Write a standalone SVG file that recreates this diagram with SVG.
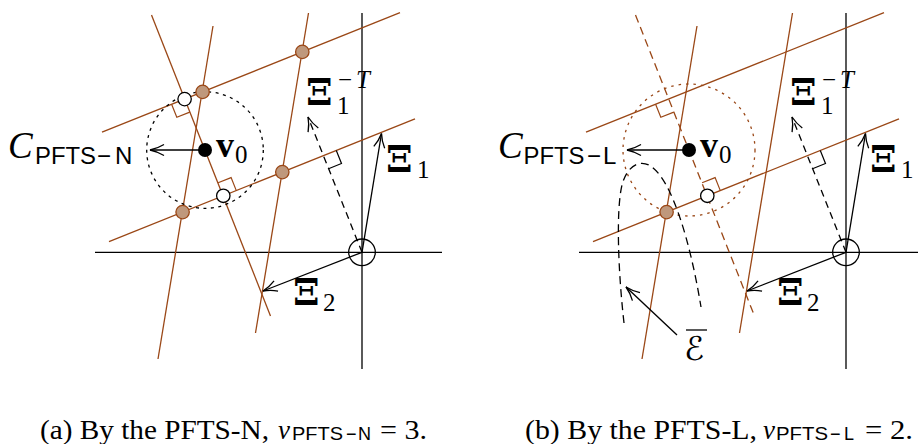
<svg xmlns="http://www.w3.org/2000/svg" width="918" height="444" viewBox="0 0 918 444">
<style>
.ax{stroke:#000;stroke-width:1.3;fill:none}
.br{stroke:#9a4716;stroke-width:1.3;fill:none}
.brd{stroke:#9a4716;stroke-width:1.3;fill:none;stroke-dasharray:8 5}
.ra{stroke:#9a4716;stroke-width:1.2;fill:none}
.rak{stroke:#000;stroke-width:1.2;fill:none}
.arr{stroke:#000;stroke-width:1.3;fill:none;marker-end:url(#to)}
.darr{stroke:#000;stroke-width:1.3;fill:none;stroke-dasharray:7 5;marker-end:url(#to)}
.dc{stroke:#000;stroke-width:1.3;fill:none;stroke-dasharray:3 4.5}
.bdc{stroke:#9a4716;stroke-width:1.3;fill:none;stroke-dasharray:2.5 5}
.lat{fill:#bf987c;stroke:#9a4716;stroke-width:1.3}
.wht{fill:#fff;stroke:#000;stroke-width:1.3}
.blk{fill:#000}
.c{font-family:"Liberation Serif",serif;font-size:37px;font-style:italic;fill:#000}
.xi{font-family:"DejaVu Serif",serif;font-size:38px;font-weight:bold;fill:#000}
.v{font-family:"Liberation Serif",serif;font-size:36px;font-weight:bold;fill:#000}
.s{font-family:"Liberation Serif",serif;font-size:25px;fill:#000}
.ss{font-family:"Liberation Sans",sans-serif;font-size:24px;fill:#000}
.cap{font-family:"Liberation Serif",serif;font-size:27px;fill:#000}
.capss{font-family:"Liberation Sans",sans-serif;font-size:18px;fill:#000}
</style>
<defs>
<marker id="to" markerUnits="userSpaceOnUse" viewBox="-16 -8 18 16" markerWidth="18" markerHeight="16" refX="0" refY="0" orient="auto">
<path d="M-14,-5.5 C-9,-2.5 -4,-0.8 0,0 C-4,0.8 -9,2.5 -14,5.5" fill="none" stroke="#000" stroke-width="1.3" stroke-dasharray="none"/>
</marker>
</defs>

<!-- Panel (a) -->
<g id="panel-a">
  <g id="a-axes">
    <line class="ax" x1="95" y1="252.3" x2="442" y2="252.3"/>
    <line class="ax" x1="362" y1="13" x2="362" y2="369"/>
    <circle id="a-origin" class="ax" cx="362" cy="252.3" r="13.3"/>
  </g>
  <g id="a-lattice-lines">
    <line class="br" x1="102" y1="132.2" x2="400" y2="12.7"/>
    <line class="br" x1="109" y1="241.6" x2="415" y2="118.9"/>
    <line class="br" x1="213" y1="26" x2="158" y2="359"/>
    <line class="br" x1="308.5" y1="13" x2="255.5" y2="333"/>
    <line class="br" x1="151.5" y1="15" x2="270.5" y2="316"/>
  </g>
  <g id="a-right-angles">
    <polyline class="ra" points="171.6,104.3 176.8,117.3 189.8,112.1"/>
    <polyline class="ra" points="218.1,182.8 231.1,177.6 236.3,190.6"/>
    <polyline class="rak" points="336.3,150.5 341.5,163.5 328.5,168.7"/>
  </g>
  <circle id="a-region" class="dc" cx="205" cy="150" r="58.3"/>
  <g id="a-connectors">
    <line class="arr" x1="362" y1="252.3" x2="381.5" y2="133.5"/>
    <line class="arr" x1="362" y1="252.3" x2="263" y2="291"/>
    <line class="darr" x1="362" y1="252.3" x2="308" y2="117"/>
    <line class="arr" x1="205" y1="150" x2="150" y2="150"/>
  </g>
  <g id="a-points">
    <circle class="lat" cx="302.3" cy="51.9" r="6.7"/>
    <circle class="lat" cx="202.6" cy="91.9" r="6.7"/>
    <circle class="lat" cx="282.3" cy="172.1" r="6.7"/>
    <circle class="lat" cx="182.6" cy="212.1" r="6.7"/>
    <circle class="wht" cx="184.6" cy="99.1" r="6.7"/>
    <circle class="wht" cx="223.3" cy="195.8" r="6.7"/>
    <circle id="a-v0" class="blk" cx="205" cy="150" r="7"/>
  </g>
  <g id="a-labels">
    <text class="c" x="8" y="158">C</text>
    <text class="ss" x="35" y="164" textLength="61" lengthAdjust="spacingAndGlyphs">PFTS</text>
    <text class="ss" x="97" y="164">−</text>
    <text class="ss" x="115" y="164">N</text>
    <text class="v" x="216" y="157">v</text>
    <text class="s" x="235" y="163">0</text>
    <text class="xi" x="306" y="105">Ξ</text>
    <text class="s" x="337" y="114">1</text>
    <text class="s" x="338" y="88">−</text>
    <text class="s" x="356" y="88" font-style="italic">T</text>
    <text class="xi" x="386" y="172">Ξ</text>
    <text class="s" x="417" y="178">1</text>
    <text class="xi" x="293" y="305">Ξ</text>
    <text class="s" x="323" y="310.5">2</text>
  </g>
</g>

<!-- Panel (b) -->
<g id="panel-b">
  <g id="b-axes">
    <line class="ax" x1="579" y1="252.3" x2="918" y2="252.3"/>
    <line class="ax" x1="846" y1="13" x2="846" y2="369"/>
    <circle id="b-origin" class="ax" cx="846" cy="252.3" r="13.3"/>
  </g>
  <g id="b-lattice-lines">
    <line class="br" x1="586" y1="132.2" x2="884" y2="12.7"/>
    <line class="br" x1="593" y1="241.6" x2="899" y2="118.9"/>
    <line class="br" x1="697" y1="26" x2="642" y2="359"/>
    <line class="br" x1="792.5" y1="13" x2="739.5" y2="333"/>
    <line class="brd" x1="635.5" y1="15" x2="754.5" y2="316"/>
  </g>
  <g id="b-right-angles">
    <polyline class="ra" points="655.6,104.3 660.8,117.3 673.8,112.1"/>
    <polyline class="ra" points="702.1,182.8 715.1,177.6 720.3,190.6"/>
    <polyline class="rak" points="820.3,150.5 825.5,163.5 812.5,168.7"/>
  </g>
  <circle id="b-region" class="bdc" cx="689" cy="150" r="66"/>
  <path id="b-ebar-curve" d="M624,323 C618,270 616,210 622,185 C627,166 640,158 652,167 C672,182 690,240 701,307" fill="none" stroke="#000" stroke-width="1.3" stroke-dasharray="8 5"/>
  <g id="b-connectors">
    <line class="arr" x1="846" y1="252.3" x2="865.5" y2="133.5"/>
    <line class="arr" x1="846" y1="252.3" x2="747" y2="291"/>
    <line class="darr" x1="846" y1="252.3" x2="792" y2="117"/>
    <line class="arr" x1="689" y1="150" x2="627" y2="150"/>
    <line class="arr" x1="677" y1="335" x2="626" y2="287"/>
  </g>
  <g id="b-points">
    <circle class="lat" cx="666.6" cy="212.1" r="6.7"/>
    <circle class="wht" cx="707.3" cy="195.8" r="6.7"/>
    <circle id="b-v0" class="blk" cx="689" cy="150" r="7"/>
  </g>
  <g id="b-labels">
    <text class="c" x="498" y="158">C</text>
    <text class="ss" x="523.5" y="164" textLength="61" lengthAdjust="spacingAndGlyphs">PFTS</text>
    <text class="ss" x="587" y="164">−</text>
    <text class="ss" x="603" y="164">L</text>
    <text class="v" x="700" y="157">v</text>
    <text class="s" x="719" y="163">0</text>
    <text class="xi" x="790" y="105">Ξ</text>
    <text class="s" x="821" y="114">1</text>
    <text class="s" x="822" y="88">−</text>
    <text class="s" x="840" y="88" font-style="italic">T</text>
    <text class="xi" x="870" y="172">Ξ</text>
    <text class="s" x="901" y="178">1</text>
    <text class="xi" x="777" y="305">Ξ</text>
    <text class="s" x="807" y="310.5">2</text>
    <line x1="686" y1="330" x2="707" y2="330" stroke="#000" stroke-width="1.3"/>
    <text x="684" y="360" font-family="'DejaVu Serif','DejaVu Sans',serif" font-size="33px" fill="#000">ℰ</text>
  </g>
</g>

<!-- Captions -->
<g id="captions">
  <text class="cap" x="40" y="439" textLength="229" lengthAdjust="spacingAndGlyphs">(a) By the PFTS-N,</text>
  <text class="cap" x="278" y="439" font-style="italic">ν</text>
  <text class="capss" x="292" y="440" textLength="51" lengthAdjust="spacingAndGlyphs">PFTS</text>
  <text class="capss" x="346" y="440">−</text>
  <text class="capss" x="358" y="440">N</text>
  <text class="cap" x="380" y="439" textLength="47" lengthAdjust="spacingAndGlyphs">= 3.</text>
  <text class="cap" x="525" y="439" textLength="232" lengthAdjust="spacingAndGlyphs">(b) By the PFTS-L,</text>
  <text class="cap" x="763" y="439" font-style="italic">ν</text>
  <text class="capss" x="776" y="440" textLength="52" lengthAdjust="spacingAndGlyphs">PFTS</text>
  <text class="capss" x="830" y="440">−</text>
  <text class="capss" x="844" y="440">L</text>
  <text class="cap" x="865" y="439" textLength="48" lengthAdjust="spacingAndGlyphs">= 2.</text>
</g>
</svg>
